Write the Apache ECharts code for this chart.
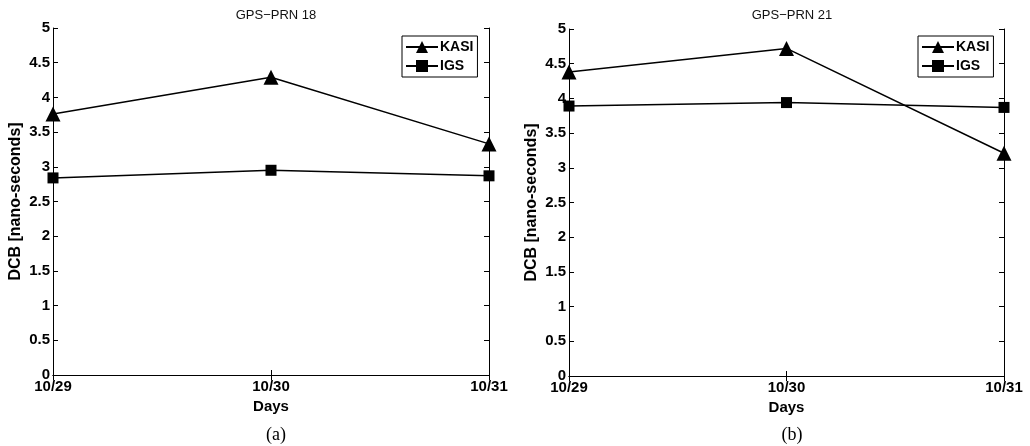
<!DOCTYPE html>
<html><head><meta charset="utf-8">
<script src="https://cdn.jsdelivr.net/npm/echarts@6/dist/echarts.min.js"></script>
<style>html,body{margin:0;padding:0;background:#fff}#c{width:1030px;height:446px}</style>
</head><body><div id="c"></div>
<script>
const days = ['10/29', '10/30', '10/31'];
const kasi18 = [3.76, 4.29, 3.33];
const igs18 = [2.84, 2.95, 2.87];
const kasi21 = [4.38, 4.72, 3.21];
const igs21 = [3.89, 3.94, 3.87];
const titles = ['GPS\u2212PRN 18', 'GPS\u2212PRN 21'];
const captions = ['(a)', '(b)'];
const yTicks = {min: 0, max: 5, interval: 0.5};

const FONT = '"Liberation Sans", Arial, sans-serif';
const SERIF = '"Liberation Serif", "DejaVu Serif", serif';
const grids = [
  {left: 53, right: 541, top: 28, bottom: 71},
  {left: 569, right: 26, top: 29, bottom: 70}
];
const xAxes = [], yAxes = [], series = [];
const sets = [[kasi18, igs18], [kasi21, igs21]];
grids.forEach((g, i) => {
  const axLine = {show: true, lineStyle: {color: '#000', width: 1}};
  const tick = {show: true, inside: true, length: 5, lineStyle: {color: '#000'}};
  xAxes.push({type: 'category', gridIndex: i, data: days, boundaryGap: false, position: 'bottom',
    axisLine: axLine, axisTick: tick,
    axisLabel: {color: '#000', fontFamily: FONT, fontWeight: 'bold', fontSize: 15, margin: 4,
      showMinLabel: true, showMaxLabel: true, interval: 0},
    splitLine: {show: false},
    name: 'Days', nameLocation: 'middle', nameGap: 22,
    nameTextStyle: {color: '#000', fontFamily: FONT, fontWeight: 'bold', fontSize: 15}});
  xAxes.push({type: 'category', gridIndex: i, data: days, boundaryGap: false, position: 'top',
    axisLine: axLine, axisTick: tick, axisLabel: {show: false}, splitLine: {show: false}});
  yAxes.push({type: 'value', gridIndex: i, min: yTicks.min, max: yTicks.max, interval: yTicks.interval, position: 'left',
    axisLine: axLine, axisTick: tick,
    axisLabel: {color: '#000', fontFamily: FONT, fontWeight: 'bold', fontSize: 15, margin: 3},
    splitLine: {show: false},
    name: 'DCB [nano-seconds]', nameLocation: 'middle', nameGap: 29,
    nameTextStyle: {color: '#000', fontFamily: FONT, fontWeight: 'bold', fontSize: 16}});
  yAxes.push({type: 'value', gridIndex: i, min: yTicks.min, max: yTicks.max, interval: yTicks.interval, position: 'right',
    axisLine: axLine, axisTick: tick, axisLabel: {show: false}, splitLine: {show: false}});
  series.push({name: 'KASI', type: 'line', xAxisIndex: 2 * i, yAxisIndex: 2 * i, data: sets[i][0],
    symbol: 'triangle', symbolSize: 15, itemStyle: {color: '#000'}, lineStyle: {color: '#000', width: 1.5}, animation: false});
  series.push({name: 'IGS', type: 'line', xAxisIndex: 2 * i, yAxisIndex: 2 * i, data: sets[i][1],
    symbol: 'rect', symbolSize: 11, itemStyle: {color: '#000'}, lineStyle: {color: '#000', width: 1.5}, animation: false});
});

const legendBase = {orient: 'vertical', data: ['KASI', 'IGS'], itemWidth: 32, itemHeight: 15, itemGap: 5,
  padding: [4, 4, 4, 3], borderColor: '#000', borderWidth: 1, backgroundColor: '#fff',
  selectedMode: false,
  textStyle: {color: '#000', fontFamily: FONT, fontWeight: 'bold', fontSize: 14, padding: [0, 0, 0, -3]}};

const chart = echarts.init(document.getElementById('c'), null, {renderer: 'canvas'});
chart.setOption({
  animation: false,
  backgroundColor: '#fff',
  title: [
    {text: titles[0], left: 271, top: 4, textAlign: 'center', textStyle: {fontFamily: FONT, fontWeight: 'normal', fontSize: 13, color: '#111'}},
    {text: titles[1], left: 787, top: 4, textAlign: 'center', textStyle: {fontFamily: FONT, fontWeight: 'normal', fontSize: 13, color: '#111'}},
    {text: captions[0], left: 271, top: 421, textAlign: 'center', textStyle: {fontFamily: SERIF, fontWeight: 'normal', fontSize: 18, color: '#000'}},
    {text: captions[1], left: 787, top: 421, textAlign: 'center', textStyle: {fontFamily: SERIF, fontWeight: 'normal', fontSize: 18, color: '#000'}}
  ],
  legend: [
    Object.assign({}, legendBase, {left: 402, top: 36}),
    Object.assign({}, legendBase, {left: 918, top: 36})
  ],
  grid: grids,
  xAxis: xAxes,
  yAxis: yAxes,
  series: series
});
</script></body></html>
